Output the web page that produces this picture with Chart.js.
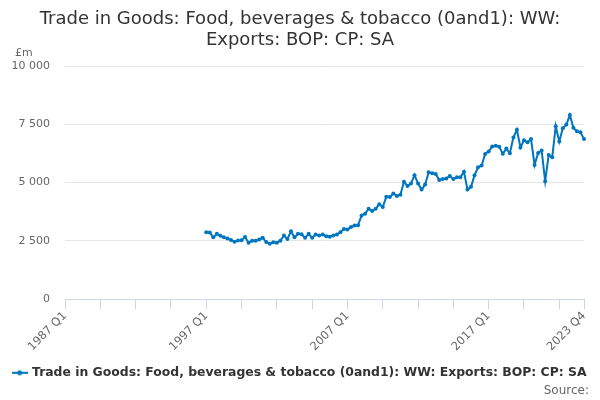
<!DOCTYPE html>
<html>
<head>
<meta charset="utf-8">
<script src="https://cdn.jsdelivr.net/npm/chart.js@4/dist/chart.umd.min.js"></script>
<style>
  html, body { margin: 0; padding: 0; background: #fff; }
  #wrap { position: relative; width: 600px; height: 400px; }
  #source { position: absolute; right: 11px; bottom: 3px; font: 12px "DejaVu Sans", sans-serif; color: #666; }
  #unit { position: absolute; left: 15px; top: 46px; font: 11px "DejaVu Sans", sans-serif; color: #666; }
</style>
</head>
<body>
<div id="wrap">
  <canvas id="c" width="600" height="400"></canvas>
  <div id="unit"></div>
  <div id="source">Source:</div>
</div>
<script>
const titleLines = ["Trade in Goods: Food, beverages & tobacco (0and1): WW:", "Exports: BOP: CP: SA"];
const seriesName = "Trade in Goods: Food, beverages & tobacco (0and1): WW: Exports: BOP: CP: SA";
const unitLabel = "£m";
const firstYear = 1987;
const lastYear = 2023;
const labeledTickIdx = [0, 40, 80, 120, 147];
const yTicks = [0, 2500, 5000, 7500, 10000];
const leadingEmptyQuarters = 40;
const values = [
  2870, 2860, 2650, 2800, 2720, 2650, 2600, 2540, 2460, 2510,
  2530, 2670, 2420, 2500, 2500, 2560, 2630, 2450, 2380, 2440,
  2420, 2500, 2730, 2580, 2910, 2650, 2800, 2780, 2630, 2800,
  2630, 2770, 2730, 2770, 2700, 2680, 2730, 2770, 2870, 3010,
  2990, 3090, 3160, 3170, 3590, 3660, 3880, 3780, 3880, 4070,
  3950, 4390, 4380, 4530, 4430, 4480, 5040, 4850, 4960, 5320,
  4960, 4700, 4920, 5440, 5400, 5370, 5110, 5150, 5180, 5280,
  5150, 5230, 5230, 5470, 4700, 4820, 5320, 5660, 5730, 6230,
  6330, 6550, 6580, 6540, 6240, 6460, 6260, 6940, 7270, 6510,
  6820, 6730, 6870, 5760, 6270, 6380, 5060, 6190, 6090, 7420,
  6760, 7330, 7490, 7900, 7350, 7200, 7160, 6870
];

document.getElementById('unit').textContent = unitLabel;

const labels = [];
for (let y = firstYear; y <= lastYear; y++) for (let q = 1; q <= 4; q++) labels.push(y + " Q" + q);
const data = labels.map((_, i) => i < leadingEmptyQuarters ? null : values[i - leadingEmptyQuarters]);

const lineColor = '#0076bf';
const legendIcon = document.createElement('canvas');
legendIcon.width = 16; legendIcon.height = 8;
(function(){
  const g = legendIcon.getContext('2d');
  g.strokeStyle = lineColor; g.lineWidth = 2;
  g.beginPath(); g.moveTo(0, 4); g.lineTo(16, 4); g.stroke();
  g.fillStyle = lineColor; g.beginPath(); g.arc(8, 4, 2.5, 0, Math.PI * 2); g.fill();
})();

function fmt(v) {
  if (v >= 1000) return Math.floor(v / 1000) + ' ' + String(v % 1000).padStart(3, '0');
  return String(v);
}

// Center title and legend over the full canvas width (the right padding only applies to the plot)
const centerBoxes = {
  id: 'centerBoxes',
  afterLayout(chart) {
    const shift = 8;
    [chart.titleBlock, chart.legend].forEach(b => {
      if (b) { b.left += shift; b.right += shift; }
    });
  }
};

new Chart(document.getElementById('c'), {
  type: 'line',
  data: {
    labels: labels,
    datasets: [{
      label: seriesName,
      data: data,
      borderColor: lineColor,
      backgroundColor: lineColor,
      borderWidth: 2,
      pointRadius: 2,
      pointHoverRadius: 3,
      pointBackgroundColor: lineColor,
      pointBorderWidth: 0,
      tension: 0,
      spanGaps: false
    }]
  },
  plugins: [centerBoxes],
  options: {
    responsive: false,
    animation: false,
    devicePixelRatio: 1,
    layout: { padding: { left: 0, right: 16, top: 5, bottom: 11 } },
    plugins: {
      title: {
        display: true,
        text: titleLines,
        color: '#333333',
        font: { family: 'DejaVu Sans', size: 18, weight: 'normal', lineHeight: 1.17 },
        padding: { top: 3.5, bottom: 15.5 }
      },
      legend: {
        position: 'bottom',
        labels: {
          usePointStyle: true,
          pointStyle: legendIcon,
          color: '#333333',
          font: { family: 'DejaVu Sans', size: 12.4, weight: 'bold' },
          padding: 8
        }
      },
      tooltip: { enabled: false }
    },
    scales: {
      x: {
        type: 'category',
        offset: false,
        grid: {
          drawOnChartArea: false,
          drawTicks: true,
          tickLength: 10,
          tickColor: (ctx) => (ctx.index % 10 === 0 || ctx.index === 147) ? '#ccd6eb' : 'rgba(0,0,0,0)'
        },
        border: { display: true, color: '#ccd6eb', width: 1 },
        ticks: {
          autoSkip: false,
          minRotation: 45,
          maxRotation: 45,
          color: '#666666',
          font: { family: 'DejaVu Sans', size: 11.5 },
          padding: 0,
          callback: function(val, idx) { return labeledTickIdx.includes(idx) ? this.getLabelForValue(val) : ''; }
        },
        afterFit: (s) => { s.height = 59.5; }
      },
      y: {
        min: 0,
        max: 10000,
        afterBuildTicks: (s) => { s.ticks = yTicks.map(v => ({ value: v })); },
        grid: { color: '#e6e6e6', drawTicks: false },
        border: { display: false },
        ticks: {
          color: '#666666',
          font: { family: 'DejaVu Sans', size: 11 },
          padding: 15,
          callback: (v) => fmt(v)
        },
        afterFit: (s) => { s.width = 65; }
      }
    }
  }
});
</script>
</body>
</html>
